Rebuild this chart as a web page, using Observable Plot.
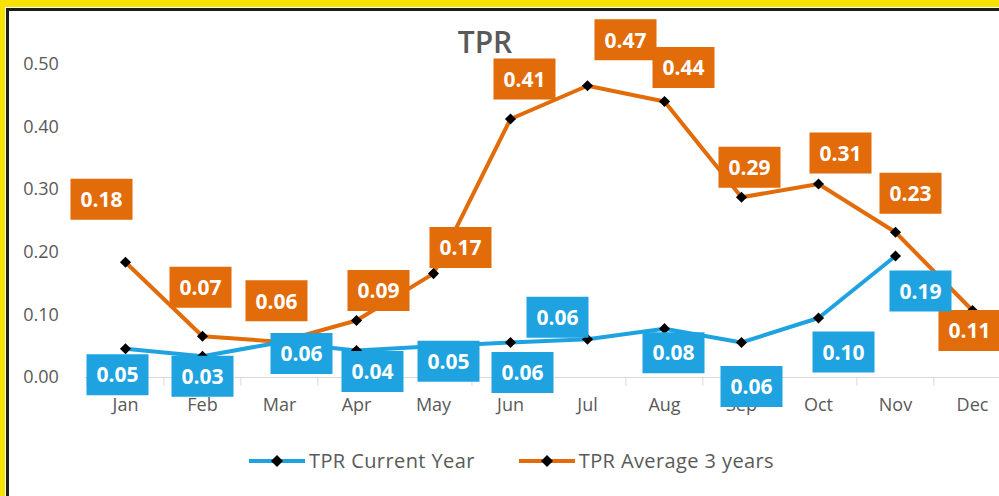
<!DOCTYPE html>
<html><head><meta charset="utf-8">
<script src="https://cdn.jsdelivr.net/npm/d3@7"></script>
<script src="https://cdn.jsdelivr.net/npm/@observablehq/plot@0.6"></script>
<style>
html,body{margin:0;padding:0;width:999px;height:496px;overflow:hidden;background:#F8E300;font-family:"Open Sans",sans-serif;}
#frame{position:absolute;left:6px;top:8px;width:1100px;height:600px;background:#fff;border-top:3px solid #1c1c1c;border-left:3px solid #1c1c1c;box-shadow:-1px -1px 0 #fff;}
#chart{position:absolute;left:0;top:0;}
#title{position:absolute;left:0;width:970px;top:23px;line-height:38px;text-align:center;font-size:30px;color:#595959;font-weight:600;}
#legend{position:absolute;top:447px;left:249px;display:flex;align-items:center;font-size:20px;color:#595959;white-space:nowrap;letter-spacing:0.4px;}
#legend .item{display:flex;align-items:center;margin-right:44px;}
#legend svg{margin-right:4px;}
</style></head>
<body>
<div id="frame"></div>
<div id="chart"></div>
<div id="title">TPR</div>
<div id="legend"></div>
<script>
const months = ["Jan","Feb","Mar","Apr","May","Jun","Jul","Aug","Sep","Oct","Nov","Dec"];
const currentYear = [0.046,0.034,0.056,0.043,0.050,0.056,0.061,0.078,0.056,0.095,0.194,null];
const average3Years = [0.184,0.066,0.057,0.091,0.166,0.413,0.466,0.441,0.288,0.309,0.232,0.107];
const yTicks = [0,0.1,0.2,0.3,0.4,0.5];
const seriesNames = ["TPR Current Year","TPR Average 3 years"];

// label placement nudges (pixels), as in the original chart
const currentLabelNudge = [[-8,26],[0,20],[22,11],[16,21],[15,15],[12,30],[-30,-22],[9,24],[10,44],[25,34],[25,35],null];
const averageLabelNudge = [[-24,-63],[-2,-49],[-3,-41],[22,-30],[27,-26],[14,-40],[38,-46],[19,-34],[8,-30],[22,-31],[15,-39],[-3,20]];

const BLUE = "#1EA3E0", ORANGE = "#E26B0A";

const cur = months.map((m,i)=>({month:m, value:currentYear[i]})).filter(d=>d.value!=null);
const avg = months.map((m,i)=>({month:m, value:average3Years[i]}));

const boxSymbol = {draw(ctx){ctx.moveTo(-31,-20.5);ctx.lineTo(31,-20.5);ctx.lineTo(31,20.5);ctx.lineTo(-31,20.5);ctx.closePath();}};

function labels(data, nudges, color){
  const out = [];
  data.forEach((d)=>{
    const o = nudges[months.indexOf(d.month)];
    if(!o) return;
    out.push(Plot.dot([d], {x:"month", y:"value", symbol: boxSymbol, r: 3, fill: color, stroke: "none", dx:o[0], dy:o[1]}));
    out.push(Plot.text([d], {x:"month", y:"value", text: v=>v.value.toFixed(2), fill:"white", fontWeight:"bold", fontSize:21, dx:o[0], dy:o[1]+1}));
  });
  return out;
}

const step = (1011.6-84.4)/12;
const chart = Plot.plot({
  width: 999, height: 440,
  marginLeft: 84.4, marginRight: -12.6, marginTop: 64, marginBottom: 63,
  style: {background:"transparent", color:"#595959", fontSize:"18px", fontFamily:"Open Sans, sans-serif", overflow:"visible"},
  x: {type:"point", domain: months, padding: 0.5, tickSize: 0, tickPadding: 21, label: null},
  y: {domain:[0,0.5], ticks: yTicks, tickFormat: ".2f", tickSize: 0, tickPadding: 26, label: null},
  marks: [
    Plot.ruleY([0], {stroke:"#d9d9d9", strokeWidth:1}),
    Plot.ruleX(months, {x: d=>d, y1: 0, y2: -0.014, dx: -step/2, stroke:"#d9d9d9"}),
    Plot.line(avg, {x:"month", y:"value", stroke: ORANGE, strokeWidth: 4}),
    Plot.line(cur, {x:"month", y:"value", stroke: BLUE, strokeWidth: 4}),
    Plot.dot(avg, {x:"month", y:"value", symbol:"diamond2", r: 5, fill:"#000"}),
    Plot.dot(cur, {x:"month", y:"value", symbol:"diamond2", r: 5, fill:"#000"}),
    ...labels(avg, averageLabelNudge, ORANGE),
    ...labels(cur, currentLabelNudge, BLUE)
  ]
});
document.getElementById("chart").appendChild(chart);

const legend = document.getElementById("legend");
[[seriesNames[0], BLUE],[seriesNames[1], ORANGE]].forEach(([name,color])=>{
  const item = document.createElement("div"); item.className = "item";
  item.innerHTML = `<svg width="56" height="14"><line x1="0" y1="7" x2="56" y2="7" stroke="${color}" stroke-width="4"/><path d="M28,1 L34,7 L28,13 L22,7 Z" fill="#000"/></svg><span>${name}</span>`;
  legend.appendChild(item);
});
</script>
</body></html>
